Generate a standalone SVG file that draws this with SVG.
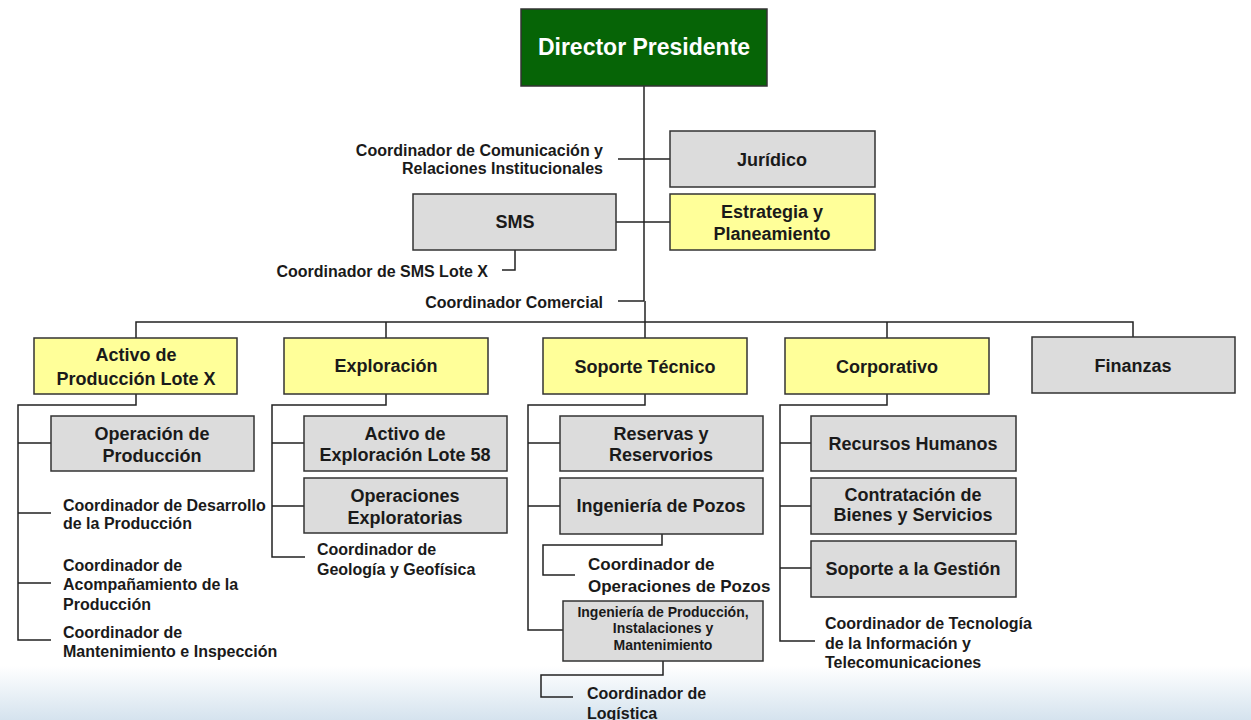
<svg xmlns="http://www.w3.org/2000/svg" width="1251" height="720" viewBox="0 0 1251 720">
<defs>
<linearGradient id="bg" x1="0" y1="0" x2="0" y2="1">
<stop offset="0" stop-color="#ffffff"/>
<stop offset="0.55" stop-color="#ffffff"/>
<stop offset="1" stop-color="#d5e3ee"/>
</linearGradient>
<style>
.box{stroke:#333;stroke-width:1.5}
.g{fill:#dcdcdc}
.y{fill:#ffff99}
.t{font-family:"Liberation Sans",Arial,sans-serif;font-weight:bold;fill:#1a1a1a;font-size:18px;text-anchor:middle}
.c{font-family:"Liberation Sans",Arial,sans-serif;font-weight:bold;fill:#1a1a1a;font-size:16px}
.s{font-size:14px}
.ln{fill:none;stroke:#222;stroke-width:1.5}
</style>
</defs>
<rect width="1251" height="720" fill="#fff"/>
<rect y="600" width="1251" height="120" fill="url(#bg)"/>

<g id="connectors" class="ln">
<path d="M644 86V301"/>
<path d="M618 159H670"/>
<path d="M616 222H670"/>
<path d="M515 250V270H502"/>
<path d="M618 301H644"/>
<path d="M645 301V322"/>
<path d="M136 338V322H1133V337"/>
<path d="M386 322V338M645 322V338M887 322V338"/>
<path d="M136 394V405H18V640H51M18 443H51M18 513H51M18 583H51"/>
<path d="M386 394V405H272V557H305M272 443H304M272 506H304"/>
<path d="M645 394V405H528V630H563M528 443H560M528 506H560"/>
<path d="M662 534V545H543V575H575"/>
<path d="M663 661V675H541V697H573"/>
<path d="M887 394V405H780V641H815M780 443H811M780 506H811M780 568H811"/>
</g>

<g id="director">
<rect class="box" x="521" y="9" width="246" height="77" fill="#066406"/>
<text class="t" x="644" y="55" style="font-size:23px;fill:#fff">Director Presidente</text>
</g>
<g id="coord-comunicacion">
<text class="c" x="603" y="156" text-anchor="end">Coordinador de Comunicación y</text>
<text class="c" x="603" y="174" text-anchor="end">Relaciones Institucionales</text>
</g>
<g id="juridico">
<rect class="box g" x="670" y="131" width="205" height="56"/>
<text class="t" x="772" y="166">Jurídico</text>
</g>
<g id="sms">
<rect class="box g" x="413" y="194" width="203" height="56"/>
<text class="t" x="515" y="228">SMS</text>
</g>
<g id="estrategia">
<rect class="box y" x="670" y="194" width="205" height="56"/>
<text class="t" x="772" y="218">Estrategia y</text>
<text class="t" x="772" y="240">Planeamiento</text>
</g>
<g id="coord-sms">
<text class="c" x="488" y="277" text-anchor="end">Coordinador de SMS Lote X</text>
</g>
<g id="coord-comercial">
<text class="c" x="603" y="308" text-anchor="end">Coordinador Comercial</text>
</g>

<g id="activo-produccion">
<rect class="box y" x="34" y="338" width="203" height="56"/>
<text class="t" x="136" y="361">Activo de</text>
<text class="t" x="136" y="385">Producción Lote X</text>
</g>
<g id="exploracion">
<rect class="box y" x="284" y="338" width="204" height="56"/>
<text class="t" x="386" y="372">Exploración</text>
</g>
<g id="soporte-tecnico">
<rect class="box y" x="543" y="338" width="204" height="56"/>
<text class="t" x="645" y="373">Soporte Técnico</text>
</g>
<g id="corporativo">
<rect class="box y" x="785" y="338" width="204" height="56"/>
<text class="t" x="887" y="373">Corporativo</text>
</g>
<g id="finanzas">
<rect class="box g" x="1032" y="337" width="203" height="56"/>
<text class="t" x="1133" y="372">Finanzas</text>
</g>

<g id="operacion-produccion">
<rect class="box g" x="51" y="416" width="203" height="55"/>
<text class="t" x="152" y="440">Operación de</text>
<text class="t" x="152" y="462">Producción</text>
</g>
<g id="coord-desarrollo">
<text class="c" x="63" y="511">Coordinador de Desarrollo</text>
<text class="c" x="63" y="529">de la Producción</text>
</g>
<g id="coord-acompanamiento">
<text class="c" x="63" y="571">Coordinador de</text>
<text class="c" x="63" y="590">Acompañamiento de la</text>
<text class="c" x="63" y="610">Producción</text>
</g>
<g id="coord-mantenimiento">
<text class="c" x="63" y="638">Coordinador de</text>
<text class="c" x="63" y="657">Mantenimiento e Inspección</text>
</g>

<g id="activo-exploracion">
<rect class="box g" x="304" y="416" width="203" height="55"/>
<text class="t" x="405" y="440">Activo de</text>
<text class="t" x="405" y="461">Exploración Lote 58</text>
</g>
<g id="operaciones-exploratorias">
<rect class="box g" x="304" y="478" width="203" height="55"/>
<text class="t" x="405" y="502">Operaciones</text>
<text class="t" x="405" y="524">Exploratorias</text>
</g>
<g id="coord-geologia">
<text class="c" x="317" y="555">Coordinador de</text>
<text class="c" x="317" y="575">Geología y Geofísica</text>
</g>

<g id="reservas">
<rect class="box g" x="560" y="416" width="203" height="55"/>
<text class="t" x="661" y="440">Reservas y</text>
<text class="t" x="661" y="461">Reservorios</text>
</g>
<g id="ingenieria-pozos">
<rect class="box g" x="560" y="478" width="203" height="56"/>
<text class="t" x="661" y="512">Ingeniería de Pozos</text>
</g>
<g id="coord-operaciones-pozos">
<text class="c" x="588" y="570" style="font-size:17px">Coordinador de</text>
<text class="c" x="588" y="592" style="font-size:17px">Operaciones de Pozos</text>
</g>
<g id="ingenieria-produccion">
<rect class="box g" x="563" y="601" width="200" height="60"/>
<text class="t s" x="663" y="617">Ingeniería de Producción,</text>
<text class="t s" x="663" y="633">Instalaciones y</text>
<text class="t s" x="663" y="650">Mantenimiento</text>
</g>
<g id="coord-logistica">
<text class="c" x="587" y="699">Coordinador de</text>
<text class="c" x="587" y="719">Logística</text>
</g>

<g id="recursos-humanos">
<rect class="box g" x="811" y="416" width="205" height="55"/>
<text class="t" x="913" y="450">Recursos Humanos</text>
</g>
<g id="contratacion">
<rect class="box g" x="811" y="478" width="205" height="56"/>
<text class="t" x="913" y="501">Contratación de</text>
<text class="t" x="913" y="521">Bienes y Servicios</text>
</g>
<g id="soporte-gestion">
<rect class="box g" x="811" y="541" width="205" height="56"/>
<text class="t" x="913" y="575">Soporte a la Gestión</text>
</g>
<g id="coord-tecnologia">
<text class="c" x="825" y="629">Coordinador de Tecnología</text>
<text class="c" x="825" y="649">de la Información y</text>
<text class="c" x="825" y="668">Telecomunicaciones</text>
</g>
</svg>
